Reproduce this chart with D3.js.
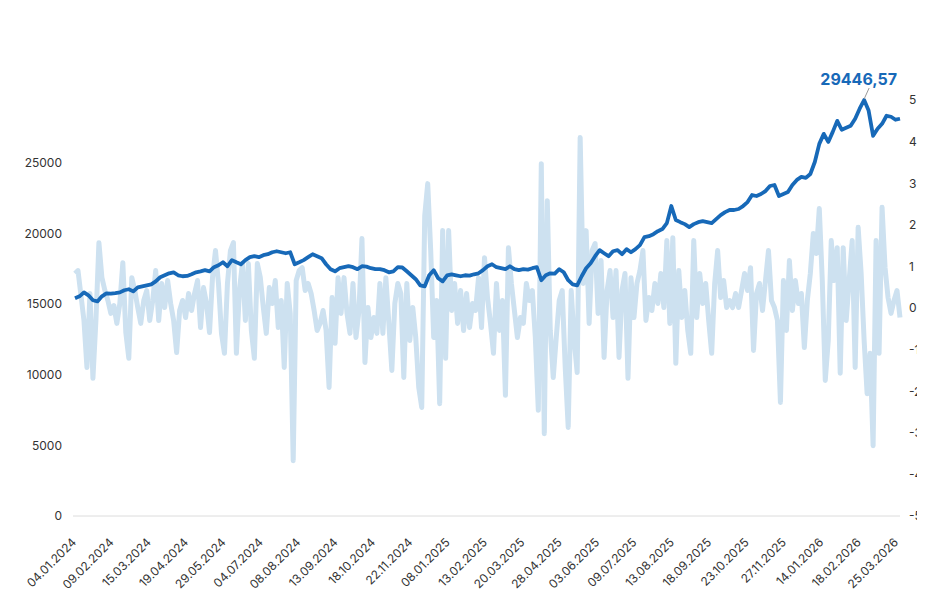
<!DOCTYPE html>
<html lang="tr">
<head>
    <meta charset="UTF-8">
    <title>Endeks ve günlük değişim</title>
    <script src="https://d3js.org/d3.v7.min.js"></script>
    <style>
        body { margin: 0; background: #fff; }
        .axis text { font: 12px Inter, sans-serif; fill: #333; }
        .axis path, .axis line { display: none; }
        .peak { font: bold 16px Inter, sans-serif; fill: #1769b8; }
    </style>
</head>
<body>
<script>
// tick labels, one every 25 trading days
const dates = ["04.01.2024", "09.02.2024", "15.03.2024", "19.04.2024", "29.05.2024", "04.07.2024",
    "08.08.2024", "13.09.2024", "18.10.2024", "22.11.2024", "08.01.2025", "13.02.2025", "20.03.2025",
    "28.04.2025", "03.06.2025", "09.07.2025", "13.08.2025", "18.09.2025", "23.10.2025", "27.11.2025",
    "14.01.2026", "18.02.2026", "25.03.2026"];

const lastDay = 552;   // trading-day index of the last point
const levelStep = 3;   // level read every 3rd day
const changeStep = 2;  // daily change read every 2nd day

// index level (left axis)
const levelValues = [
    15410, 15550, 15830, 15620, 15270, 15190, 15550, 15760, 15740, 15780,
    15830, 15980, 16050, 15900, 16190, 16260, 16330, 16400, 16610, 16900,
    17040, 17180, 17250, 17040, 16970, 16990, 17110, 17250, 17320, 17400,
    17320, 17610, 17750, 17960, 17680, 18110, 17960, 17820, 18110, 18320,
    18390, 18320, 18460, 18530, 18670, 18740, 18670, 18600, 18670, 17820,
    17960, 18110, 18320, 18530, 18390, 18250, 17820, 17470, 17320, 17540,
    17610, 17680, 17610, 17470, 17680, 17650, 17540, 17470, 17480, 17400,
    17250, 17320, 17610, 17590, 17320, 17040, 16760, 16330, 16260, 17040,
    17400, 16830, 16610, 17040, 17110, 17040, 16970, 17040, 17020, 17110,
    17180, 17400, 17680, 17820, 17610, 17540, 17470, 17680, 17470, 17400,
    17470, 17440, 17540, 17610, 16690, 17040, 17180, 17160, 17470, 17250,
    16690, 16400, 16330, 16970, 17540, 17890, 18390, 18820, 18600, 18390,
    18740, 18820, 18530, 18890, 18670, 18890, 19170, 19740, 19810, 19950,
    20160, 20310, 20730, 21940, 20950, 20800, 20660, 20450, 20660, 20800,
    20870, 20800, 20730, 21020, 21300, 21510, 21660, 21660, 21730, 21940,
    22220, 22720, 22650, 22790, 23000, 23360, 23430, 22650, 22790, 22930,
    23430, 23790, 24000, 23930, 24210, 25060, 26340, 27050, 26480, 27190,
    27970, 27340, 27480, 27620, 28120, 28830, 29446.57, 28700, 26910, 27410,
    27760, 28330, 28260, 28050, 28120
];

// daily change in % (right axis)
const changeValues = [
    0.83, 0.90, 0.30, -0.30, -1.43, 0.35, -1.69, -0.30, 1.57, 0.73,
    0.42, 0.18, -0.13, 0.06, -0.37, 0.11, 1.09, -0.59, -1.21, 0.73,
    0.42, 0.01, -0.37, 0.18, 0.42, -0.30, 0.18, 0.90, -0.30, 0.59,
    0.01, 0.66, 0.11, -0.30, -1.07, -0.06, 0.18, -0.23, 0.35, -0.06,
    0.35, 0.66, -0.47, 0.49, 0.11, -0.59, 0.73, 1.38, 0.59, -0.61,
    -1.09, 0.59, 1.38, 1.57, -1.09, 0.42, 1.07, -0.30, 1.07, -0.54,
    -1.21, 1.07, 0.73, 0.01, -0.61, 0.49, 0.11, 0.66, -0.47, 0.18,
    -1.43, 0.59, -0.13, -3.67, 0.66, 0.90, 0.97, 0.42, 0.59, 0.35,
    -0.06, -0.54, -0.37, -0.06, -0.54, -1.91, 0.25, -0.85, 0.73, -0.13,
    0.73, -0.13, -0.61, 0.59, -0.71, -0.06, 1.67, -1.31, 0.01, -0.71,
    -0.23, -0.61, 0.59, -0.61, 0.73, -0.37, -1.50, 0.11, 0.59, 0.35,
    -1.67, 0.59, -0.78, 0.01, -0.71, -1.91, -2.39, 2.22, 2.99, 1.38,
    -0.71, 0.18, -2.30, 1.86, -1.21, 1.86, -0.06, 0.59, -0.37, 0.42,
    -0.54, 0.35, -0.47, 0.11, -0.06, 0.73, -0.47, 1.21, 0.25, -0.37,
    -1.09, 0.59, -0.54, 0.18, -2.10, 1.45, 0.59, -0.06, -0.71, -0.23,
    -0.37, 0.59, 0.18, 0.42, -0.71, -2.46, 3.47, -3.02, 2.58, -0.54,
    -1.67, -0.71, 0.18, 0.42, -1.43, -2.87, 0.42, -0.78, -1.55, 4.10,
    0.59, 1.86, -0.37, 1.38, 1.55, -0.13, 1.14, -1.19, 0.42, 0.90,
    -0.23, 0.90, -1.19, 0.42, 0.83, -1.69, 0.73, -0.23, 0.59, 0.90,
    1.38, -0.30, 0.25, -0.06, 0.59, 0.11, 0.83, 0.01, 1.62, -0.37,
    1.69, -1.33, 0.90, -0.23, 0.42, -0.54, -1.09, 1.62, -0.23, 0.83,
    0.11, 0.59, -0.30, -1.09, 0.59, 1.38, 0.25, 0.66, 0.01, 0.18,
    0.01, 0.35, 0.01, 0.42, 0.83, 0.42, 0.97, -1.02, 0.35, 0.59,
    -0.06, 0.66, 1.38, 0.18, 0.01, -0.30, -2.27, 0.66, -0.54, 1.14,
    -0.06, 0.66, 0.11, 0.35, -0.95, 0.18, 0.83, 1.79, 1.31, 2.39,
    0.66, -1.74, -0.78, 1.62, 0.66, 1.45, -1.57, 1.45, -0.30, 0.66,
    1.62, -1.43, 1.94, 0.83, -0.78, -2.06, -1.09, -3.31, 1.62, -1.09,
    2.42, 0.97, 0.25, -0.13, 0.18, 0.42, -0.23
];

const leftTicks = [0, 5000, 10000, 15000, 20000, 25000];
const rightTicks = [-5, -4, -3, -2, -1, 0, 1, 2, 3, 4, 5];
const peakLabel = "29446,57";

const width = 947, height = 603;

const svg = d3.select("body").append("svg")
    .attr("width", width)
    .attr("height", height);

// scales
const x = d3.scaleLinear().domain([0, lastDay]).range([75, 900]);
const yLeft = d3.scaleLinear().domain([0, d3.max(levelValues)]).range([516, 100]);
const yRight = d3.scaleLinear().domain([-5, 5]).range([516, 100]);

// clip for right axis labels (they are cut in the original)
svg.append("clipPath").attr("id", "rclip")
    .append("rect").attr("x", 0).attr("y", 0).attr("width", 917).attr("height", height);

// baseline
svg.append("line")
    .attr("x1", 73).attr("x2", 900)
    .attr("y1", yLeft(0)).attr("y2", yLeft(0))
    .attr("stroke", "#dcdcdc").attr("stroke-width", 1);

// left axis
svg.append("g")
    .attr("class", "axis")
    .attr("transform", "translate(73,0)")
    .call(d3.axisLeft(yLeft).tickValues(leftTicks).tickSize(0).tickPadding(11).tickFormat(d => String(d)));

// right axis
svg.append("g")
    .attr("class", "axis")
    .attr("clip-path", "url(#rclip)")
    .append("g")
    .attr("transform", "translate(900,0)")
    .call(d3.axisRight(yRight).tickValues(rightTicks).tickSize(0).tickPadding(9).tickFormat(d => String(d)));

// x axis
const xAxis = svg.append("g")
    .attr("class", "axis")
    .attr("transform", `translate(0,${yLeft(0)})`)
    .call(d3.axisBottom(x).tickValues(dates.map((d, i) => i * 25)).tickSize(0)
        .tickFormat(d => dates[d / 25]));
xAxis.selectAll("text")
    .attr("x", 0).attr("y", 0).attr("dy", 0)
    .attr("text-anchor", "end")
    .attr("transform", "translate(1.5,27) rotate(-45)");

// daily change
const changeLine = d3.line()
    .x((d, i) => x(i * changeStep))
    .y(d => yRight(d));
svg.append("path")
    .datum(changeValues)
    .attr("d", changeLine)
    .attr("fill", "none")
    .attr("stroke", "#cde1f0")
    .attr("stroke-width", 5)
    .attr("stroke-linejoin", "round");

// index level
const levelLine = d3.line()
    .x((d, i) => x(i * levelStep))
    .y(d => yLeft(d));
svg.append("path")
    .datum(levelValues)
    .attr("d", levelLine)
    .attr("fill", "none")
    .attr("stroke", "#1769b8")
    .attr("stroke-width", 3.8)
    .attr("stroke-linejoin", "round");

// peak annotation
const peakIdx = levelValues.indexOf(d3.max(levelValues));
const px = x(peakIdx * levelStep), py = yLeft(levelValues[peakIdx]);
svg.append("line")
    .attr("x1", px).attr("y1", py - 1)
    .attr("x2", px + 5).attr("y2", py - 12)
    .attr("stroke", "#999").attr("stroke-width", 1);
svg.append("text")
    .attr("class", "peak")
    .attr("x", px + 33).attr("y", py - 15)
    .attr("text-anchor", "end")
    .text(peakLabel);
</script>
</body>
</html>
